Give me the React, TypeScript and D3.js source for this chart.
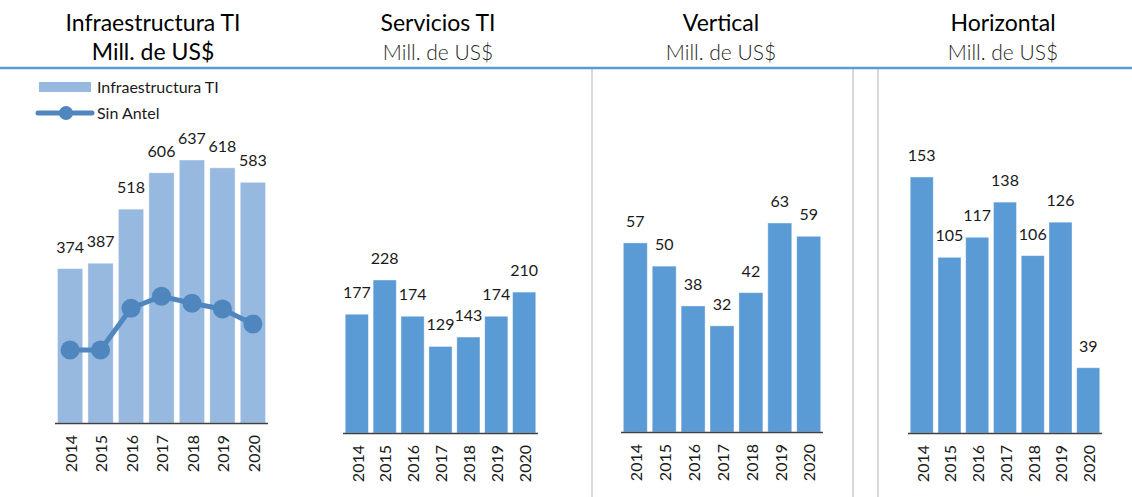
import React from "react";
import * as d3 from "d3";

const years = ["2014", "2015", "2016", "2017", "2018", "2019", "2020"];
const infraValues = [374, 387, 518, 606, 637, 618, 583];
const sinAntelValues = [177, 177, 278, 307, 290, 276, 240];
const serviciosValues = [177, 228, 174, 129, 143, 174, 210];
const verticalValues = [57, 50, 38, 32, 42, 63, 59];
const horizontalValues = [153, 105, 117, 138, 106, 126, 39];

const titles = ["Infraestructura TI", "Servicios TI", "Vertical", "Horizontal"];
const subtitle = "Mill. de US$";
const legendLabels = ["Infraestructura TI", "Sin Antel"];

const FONT = "Lato, 'Open Sans', sans-serif";
const LIGHT_BAR = "#97B9E0";
const BAR = "#5B9BD5";
const LINE = "#4E86BD";
const AXIS = "#404040";

// layout of each small chart
const panels = [
  { values: infraValues, x0: 55, x1: 268, base: 423, top: 160, center: 153, color: LIGHT_BAR },
  { values: serviciosValues, x0: 343, x1: 538, base: 433, top: 280, center: 438, color: BAR },
  { values: verticalValues, x0: 621, x1: 823, base: 432, top: 223, center: 721, color: BAR },
  { values: horizontalValues, x0: 908, x1: 1102, base: 433, top: 177, center: 1003, color: BAR },
];

function Panel({ p, i }: { p: any; i: number }) {
  const x = d3.scaleBand().domain(years).range([p.x0, p.x1]).paddingInner(0.17).paddingOuter(0.08);
  const y = d3.scaleLinear().domain([0, d3.max(p.values as number[])!]).range([p.base, p.top]);
  const bw = x.bandwidth();

  const line = d3
    .line<number>()
    .x((_, j) => x(years[j])! + bw / 2)
    .y((d) => y(d));

  return (
    <g>
      <text x={p.center} y={31} textAnchor="middle" fontSize={23} fill="#000">
        {titles[i]}
      </text>
      <text
        x={p.center}
        y={60}
        textAnchor="middle"
        fontSize={i === 0 ? 23 : 21}
        fontWeight={i === 0 ? 400 : 300}
        fill={i === 0 ? "#000" : "#1f1f1f"}
      >
        {subtitle}
      </text>
      {p.values.map((v: number, j: number) => (
        <rect
          key={j}
          x={x(years[j])}
          y={y(v)}
          width={bw}
          height={p.base - y(v)}
          fill={p.color}
          stroke="#fff"
          strokeOpacity={0.5}
          strokeWidth={0.8}
        />
      ))}
      {p.values.map((v: number, j: number) => (
        <text key={"l" + j} x={x(years[j])! + bw / 2} y={y(v) - 16} textAnchor="middle" fontSize={16} fill="#1a1a1a">
          {v}
        </text>
      ))}
      {i === 0 && (
        <g>
          <path d={line(sinAntelValues)!} fill="none" stroke={LINE} strokeWidth={5} />
          {sinAntelValues.map((v, j) => (
            <circle key={"c" + j} cx={x(years[j])! + bw / 2} cy={y(v)} r={9.5} fill={LINE} />
          ))}
        </g>
      )}
      <line x1={p.x0} x2={p.x1} y1={p.base + 0.5} y2={p.base + 0.5} stroke={AXIS} strokeWidth={1.5} />
      {years.map((yr) => (
        <text
          key={yr}
          transform={`translate(${x(yr)! + bw / 2 + 1},${p.base + 12}) rotate(-90)`}
          textAnchor="end"
          dy="0.36em"
          fontSize={16}
          fill="#1a1a1a"
        >
          {yr}
        </text>
      ))}
    </g>
  );
}

export default function App() {
  return (
    <svg
      width={1132}
      height={497}
      style={{ position: "absolute", left: 0, top: 0, background: "#fff" }}
      fontFamily={FONT}
    >
      <rect width={1132} height={497} fill="#fff" />
      {[592, 853, 878].map((gx) => (
        <line key={gx} x1={gx} x2={gx} y1={69} y2={497} stroke="#D9D9D9" strokeWidth={2} />
      ))}
      <line x1={0} x2={1132} y1={68} y2={68} stroke={BAR} strokeWidth={2.5} />
      {/* legend */}
      <rect x={39} y={82} width={52} height={10} fill={LIGHT_BAR} />
      <text x={97} y={93} fontSize={16} fill="#1a1a1a">
        {legendLabels[0]}
      </text>
      <line x1={38} x2={92} y1={113} y2={113} stroke={LINE} strokeWidth={5} strokeLinecap="round" />
      <circle cx={66} cy={113} r={7} fill={LINE} />
      <text x={97} y={119} fontSize={16} fill="#1a1a1a">
        {legendLabels[1]}
      </text>
      {panels.map((p, i) => (
        <Panel key={i} p={p} i={i} />
      ))}
    </svg>
  );
}
